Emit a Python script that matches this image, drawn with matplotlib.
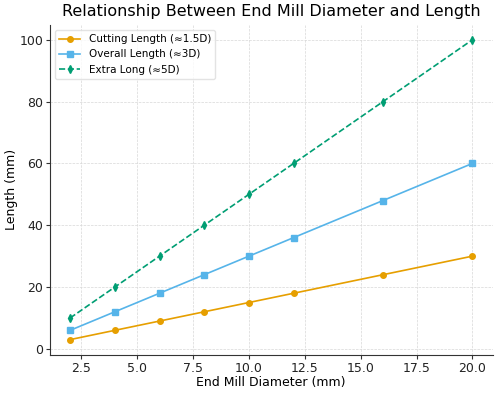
import matplotlib
matplotlib.use("Agg")
import matplotlib.pyplot as plt

diameters = [2, 4, 6, 8, 10, 12, 16, 20]
cutting = [3, 6, 9, 12, 15, 18, 24, 30]
overall = [6, 12, 18, 24, 30, 36, 48, 60]
extra = [10, 20, 30, 40, 50, 60, 80, 100]

fig, ax = plt.subplots(figsize=(5.0, 3.94), dpi=100)
fig.subplots_adjust(left=0.1, right=0.985, top=0.937, bottom=0.1)

ax.plot(diameters, cutting, color="#E69F00", marker="o", markersize=4, linewidth=1.2, label="Cutting Length (≈1.5D)")
ax.plot(diameters, overall, color="#56B4E9", marker="s", markersize=4, linewidth=1.2, label="Overall Length (≈3D)")
ax.plot(diameters, extra, color="#009E73", marker="d", markersize=4, linewidth=1.2, linestyle="--", label="Extra Long (≈5D)")

ax.set_title("Relationship Between End Mill Diameter and Length", fontsize=11.5)
ax.set_xlabel("End Mill Diameter (mm)", fontsize=9, va="center")
ax.set_ylabel("Length (mm)", fontsize=9, va="center")
ax.yaxis.set_label_coords(-0.086, 0.5)
ax.xaxis.set_label_coords(0.5, -0.085)
ax.grid(True, linestyle="--", linewidth=0.5, color="#d8d8d8")
ax.spines["top"].set_visible(False)
ax.spines["right"].set_visible(False)
for s in ("left", "bottom"):
    ax.spines[s].set_color("#333333")
ax.tick_params(direction="out", length=3, pad=2, labelsize=9, colors="#333333", labelcolor="#222222")
leg = ax.legend(loc="upper left", fontsize=7.5, frameon=True)
leg.get_frame().set_edgecolor("#dddddd")

fig.savefig("out.png", dpi=100)
